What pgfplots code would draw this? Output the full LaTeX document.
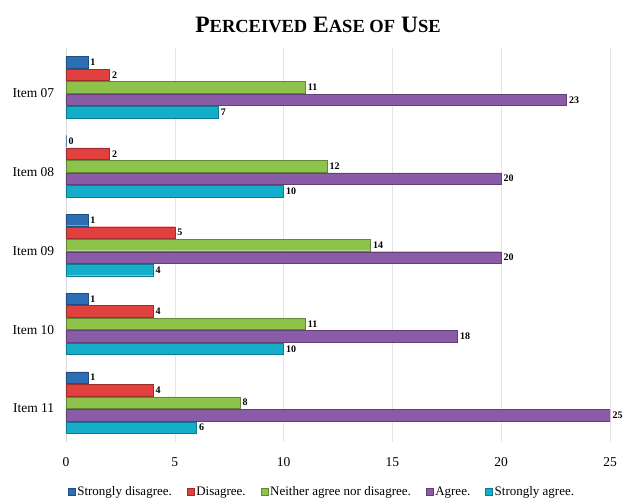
\documentclass[border=0pt]{standalone}
\usepackage{fontspec}
\setmainfont{Liberation Serif}
\usepackage{pgfplots}
\pgfplotsset{compat=1.18}

\definecolor{sdis}{HTML}{2C6FB6}
\definecolor{dis}{HTML}{E0413F}
\definecolor{neu}{HTML}{8DC34A}
\definecolor{agr}{HTML}{8A5BA6}
\definecolor{sagr}{HTML}{14AECB}

\begin{document}
\begin{tikzpicture}
\begin{axis}[
    scale only axis,
    width=544pt, height=394pt,
    xbar=1pt, bar width=11.5pt,
    xmin=0, xmax=25,
    ymin=-0.5, ymax=4.5,
    ytick={0,1,2,3,4},
    yticklabels={Item 11,Item 10,Item 09,Item 08,Item 07},
    xtick={0,5,10,15,20,25},
    xmajorgrids, grid style={gray!20},
    axis x line*=bottom, axis y line*=left,
    x axis line style={draw=none},
    y axis line style={gray!30},
    tick style={draw=none},
    /pgf/number format/assume math mode=true,
    ticklabel style={font=\fontsize{13.5}{15}\selectfont},
    yticklabel style={xshift=-4pt, yshift=-6pt},
    xticklabel style={yshift=-12pt},
    title={\textbf{\fontsize{23.5}{26}\selectfont P{\fontsize{18.5}{20}\selectfont ERCEIVED} E{\fontsize{18.5}{20}\selectfont ASE OF} U{\fontsize{18.5}{20}\selectfont SE}}},
    title style={anchor=base, at={(0.5,1)}, yshift=9pt, xshift=-20pt},
    nodes near coords,
    every node near coord/.append style={font=\bfseries\fontsize{10}{11}\selectfont, black, xshift=-1pt},
    reverse legend,
    legend style={at={(0.5,-0.126)}, anchor=center, xshift=-16pt, draw=none, legend columns=5,
        font=\fontsize{13}{14}\selectfont,
        /tikz/every even column/.append style={column sep=13pt}},
    legend image code/.code={\fill[#1] (0pt,-3.5pt) rectangle (7pt,3.5pt);},
]
\addplot[fill=sagr, draw=sagr!70!black] coordinates {(7,4) (10,3) (4,2) (10,1) (6,0)};
\addplot[fill=agr, draw=agr!70!black] coordinates {(23,4) (20,3) (20,2) (18,1) (25,0)};
\addplot[fill=neu, draw=neu!70!black] coordinates {(11,4) (12,3) (14,2) (11,1) (8,0)};
\addplot[fill=dis, draw=dis!70!black] coordinates {(2,4) (2,3) (5,2) (4,1) (4,0)};
\addplot[fill=sdis, draw=sdis!70!black] coordinates {(1,4) (0,3) (1,2) (1,1) (1,0)};
\legend{Strongly agree.,Agree.,Neither agree nor disagree.,Disagree.,Strongly disagree.}
\end{axis}
\path ([shift={(-66pt,-58pt)}]current axis.south west) rectangle ([shift={(20pt,48pt)}]current axis.north east);
\end{tikzpicture}
\end{document}
